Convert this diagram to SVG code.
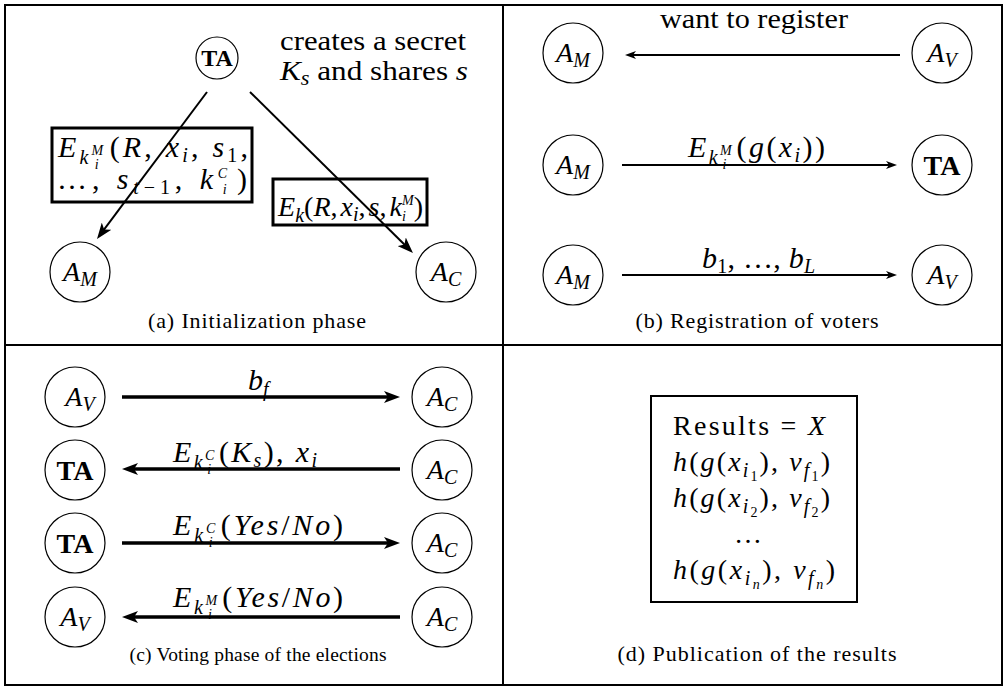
<svg xmlns="http://www.w3.org/2000/svg" width="1006" height="687" viewBox="0 0 1006 687" font-family="Liberation Serif, Times New Roman, serif">
<defs>
<style>
text { font-family: "Liberation Serif", "Times New Roman", serif; fill: #000; }
.m { font-size: 28px; }
.ml { font-size: 30px; }
.cap { font-size: 22px; }
.i { font-style: italic; }
.b { font-weight: bold; }
.s { font-size: 20px; }
.ss { font-size: 14px; }
.node { fill: #fff; stroke: #000; stroke-width: 1.2; }
.frame { fill: none; stroke: #000; stroke-width: 2; }
.box { fill: none; stroke: #000; stroke-width: 3; }
.e1 { stroke: #000; stroke-width: 2; fill: none; }
.e2 { stroke: #000; stroke-width: 3.5; fill: none; }
.e0 { stroke: #000; stroke-width: 2; fill: none; }
</style>
<marker id="ah" viewBox="0 0 16 12" refX="10" refY="6" markerWidth="16" markerHeight="12" markerUnits="userSpaceOnUse" orient="auto">
<path d="M0,0 L16,6 L0,12 L4,6 z" fill="#000"/>
</marker>
<marker id="ahs" viewBox="0 0 11 8" refX="7" refY="4" markerWidth="11" markerHeight="8" markerUnits="userSpaceOnUse" orient="auto">
<path d="M0,0 L11,4 L0,8 L3,4 z" fill="#000"/>
</marker>
</defs>

<rect x="0" y="0" width="1006" height="687" fill="#fff"/>

<!-- frame and panel dividers -->
<g id="frame">
<rect class="frame" x="5" y="5" width="997" height="680"/>
<line class="frame" x1="503" y1="5" x2="503" y2="685"/>
<line class="frame" x1="5" y1="345" x2="1002" y2="345"/>
</g>

<!-- connectors -->
<g id="connectors">
<!-- (a) initialization -->
<line class="e1" x1="207" y1="92" x2="100.6" y2="234.2" marker-end="url(#ah)"/>
<line class="e1" x1="250" y1="92" x2="408.7" y2="248.8" marker-end="url(#ah)"/>
<!-- (b) registration -->
<line class="e0" x1="900" y1="55" x2="629" y2="55" marker-end="url(#ahs)"/>
<line class="e0" x1="622" y1="165" x2="893" y2="165" marker-end="url(#ahs)"/>
<line class="e0" x1="622" y1="275" x2="893" y2="275" marker-end="url(#ahs)"/>
<!-- (c) voting -->
<line class="e2" x1="122" y1="397" x2="394" y2="397" marker-end="url(#ah)"/>
<line class="e2" x1="400" y1="469" x2="128" y2="469" marker-end="url(#ah)"/>
<line class="e2" x1="122" y1="543" x2="394" y2="543" marker-end="url(#ah)"/>
<line class="e2" x1="400" y1="617" x2="128" y2="617" marker-end="url(#ah)"/>
</g>

<!-- (a) Initialization phase -->
<g id="a-TA">
<circle class="node" cx="217" cy="58" r="21"/>
<text class="b" x="217" y="66" style="font-size:24px" text-anchor="middle">TA</text>
</g>
<g id="a-note">
<text class="m" x="280" y="50" textLength="186" lengthAdjust="spacingAndGlyphs">creates a secret</text>
<text class="m" x="280" y="80" textLength="188" lengthAdjust="spacingAndGlyphs"><tspan class="i">K</tspan><tspan class="s i" dy="5">s</tspan><tspan dy="-5"> and shares </tspan><tspan class="i">s</tspan></text>
</g>
<g id="a-msgM">
<rect class="box" x="52" y="128" width="200" height="74"/>
<text class="ml" x="58" y="157" textLength="190"><tspan class="i">E</tspan><tspan class="s i" dy="7">k</tspan><tspan class="ss i" dy="-9">M</tspan><tspan class="ss i" dx="-11.7" dy="14">i</tspan><tspan dx="7.8" dy="-12">(</tspan><tspan class="i">R</tspan>, <tspan class="i">x</tspan><tspan class="s i" dy="5">i</tspan><tspan dy="-5">, </tspan><tspan class="i">s</tspan><tspan class="s" dy="5">1</tspan><tspan dy="-5">,</tspan></text>
<text class="ml" x="57" y="189" textLength="190">…, <tspan class="i">s</tspan><tspan class="s" dy="5"><tspan class="i">t</tspan>−1</tspan><tspan dy="-5">, </tspan><tspan class="i">k</tspan><tspan class="ss i" dy="-11">C</tspan><tspan class="ss i" dx="-9.3" dy="16">i</tspan><tspan dx="5.4" dy="-5">)</tspan></text>
</g>
<g id="a-msgC">
<rect class="box" x="273" y="179" width="154" height="46"/>
<text class="m" x="278" y="216" textLength="145"><tspan class="i">E</tspan><tspan class="s i" dy="6">k</tspan><tspan dy="-6">(</tspan><tspan class="i">R</tspan>,<tspan class="i" dx="3">x</tspan><tspan class="s i" dy="5">i</tspan><tspan dy="-5">,</tspan><tspan class="i" dx="3">s</tspan>,<tspan class="i" dx="3">k</tspan><tspan class="ss i" dy="-11">M</tspan><tspan class="ss i" dx="-11.7" dy="16">i</tspan><tspan dx="7.8" dy="-5">)</tspan></text>
</g>
<g id="a-AM">
<circle class="node" cx="80" cy="272" r="30"/>
<text class="m" x="80" y="281" text-anchor="middle"><tspan class="i">A</tspan><tspan class="s i" dy="5">M</tspan></text>
</g>
<g id="a-AC">
<circle class="node" cx="446" cy="272" r="30"/>
<text class="m" x="446" y="281" text-anchor="middle"><tspan class="i">A</tspan><tspan class="s i" dy="5">C</tspan></text>
</g>
<text class="cap" x="257" y="328" text-anchor="middle" textLength="218">(a)  Initialization phase</text>

<!-- (b) Registration of voters -->
<g id="b-AM1">
<circle class="node" cx="573" cy="53" r="30"/>
<text class="m" x="573" y="62" text-anchor="middle"><tspan class="i">A</tspan><tspan class="s i" dy="5">M</tspan></text>
</g>
<g id="b-AV1">
<circle class="node" cx="942" cy="53" r="30"/>
<text class="m" x="942" y="62" text-anchor="middle"><tspan class="i">A</tspan><tspan class="s i" dy="5">V</tspan></text>
</g>
<g id="b-AM2">
<circle class="node" cx="573" cy="165" r="30"/>
<text class="m" x="573" y="174" text-anchor="middle"><tspan class="i">A</tspan><tspan class="s i" dy="5">M</tspan></text>
</g>
<g id="b-TA">
<circle class="node" cx="942" cy="165" r="30"/>
<text class="m b" x="942" y="175" text-anchor="middle">TA</text>
</g>
<g id="b-AM3">
<circle class="node" cx="573" cy="275" r="30"/>
<text class="m" x="573" y="284" text-anchor="middle"><tspan class="i">A</tspan><tspan class="s i" dy="5">M</tspan></text>
</g>
<g id="b-AV3">
<circle class="node" cx="942" cy="275" r="30"/>
<text class="m" x="942" y="284" text-anchor="middle"><tspan class="i">A</tspan><tspan class="s i" dy="5">V</tspan></text>
</g>
<g id="b-labels">
<text class="m" x="660" y="28" textLength="188" lengthAdjust="spacingAndGlyphs">want to register</text>
<text class="ml" x="688" y="157" textLength="137"><tspan class="i">E</tspan><tspan class="s i" dy="7">k</tspan><tspan class="ss i" dy="-9">M</tspan><tspan class="ss i" dx="-11.7" dy="14">i</tspan><tspan dx="7.8" dy="-12">(</tspan><tspan class="i">g</tspan>(<tspan class="i">x</tspan><tspan class="s i" dy="5">i</tspan><tspan dy="-5">))</tspan></text>
<text class="ml" x="702" y="268" textLength="113"><tspan class="i">b</tspan><tspan class="s" dy="5">1</tspan><tspan dy="-5">, …, </tspan><tspan class="i">b</tspan><tspan class="s i" dy="5">L</tspan></text>
</g>
<text class="cap" x="757" y="328" text-anchor="middle" textLength="243">(b)  Registration of voters</text>

<!-- (c) Voting phase of the elections -->
<g id="c-AV1">
<circle class="node" cx="75" cy="397" r="30"/>
<text class="m" x="80" y="406" text-anchor="middle"><tspan class="i">A</tspan><tspan class="s i" dy="5">V</tspan></text>
</g>
<g id="c-AC1">
<circle class="node" cx="442" cy="397" r="30"/>
<text class="m" x="442" y="406" text-anchor="middle"><tspan class="i">A</tspan><tspan class="s i" dy="5">C</tspan></text>
</g>
<g id="c-TA2">
<circle class="node" cx="75" cy="470" r="30"/>
<text class="m b" x="75" y="480" text-anchor="middle">TA</text>
</g>
<g id="c-AC2">
<circle class="node" cx="442" cy="470" r="30"/>
<text class="m" x="442" y="479" text-anchor="middle"><tspan class="i">A</tspan><tspan class="s i" dy="5">C</tspan></text>
</g>
<g id="c-TA3">
<circle class="node" cx="75" cy="543" r="30"/>
<text class="m b" x="75" y="553" text-anchor="middle">TA</text>
</g>
<g id="c-AC3">
<circle class="node" cx="442" cy="543" r="30"/>
<text class="m" x="442" y="552" text-anchor="middle"><tspan class="i">A</tspan><tspan class="s i" dy="5">C</tspan></text>
</g>
<g id="c-AV4">
<circle class="node" cx="75" cy="617" r="30"/>
<text class="m" x="75" y="626" text-anchor="middle"><tspan class="i">A</tspan><tspan class="s i" dy="5">V</tspan></text>
</g>
<g id="c-AC4">
<circle class="node" cx="442" cy="617" r="30"/>
<text class="m" x="442" y="626" text-anchor="middle"><tspan class="i">A</tspan><tspan class="s i" dy="5">C</tspan></text>
</g>
<g id="c-labels">
<text class="ml" x="248" y="390"><tspan class="i">b</tspan><tspan class="s i" dy="6">f</tspan></text>
<text class="ml" x="173" y="462" textLength="144"><tspan class="i">E</tspan><tspan class="s i" dy="7">k</tspan><tspan class="ss i" dy="-9">C</tspan><tspan class="ss i" dx="-9.3" dy="14">i</tspan><tspan dx="5.4" dy="-12">(</tspan><tspan class="i">K</tspan><tspan class="s i" dy="5">s</tspan><tspan dy="-5">), </tspan><tspan class="i">x</tspan><tspan class="s i" dy="5">i</tspan></text>
<text class="ml" x="173" y="535" textLength="170"><tspan class="i">E</tspan><tspan class="s i" dy="7">k</tspan><tspan class="ss i" dy="-9">C</tspan><tspan class="ss i" dx="-9.3" dy="14">i</tspan><tspan dx="5.4" dy="-12">(</tspan><tspan class="i">Yes</tspan>/<tspan class="i">No</tspan>)</text>
<text class="ml" x="173" y="607" textLength="170"><tspan class="i">E</tspan><tspan class="s i" dy="7">k</tspan><tspan class="ss i" dy="-9">M</tspan><tspan class="ss i" dx="-11.7" dy="14">i</tspan><tspan dx="7.8" dy="-12">(</tspan><tspan class="i">Yes</tspan>/<tspan class="i">No</tspan>)</text>
</g>
<text x="258" y="661" font-size="19.5" text-anchor="middle" textLength="257">(c)  Voting phase of the elections</text>

<!-- (d) Publication of the results -->
<g id="d-results">
<rect class="frame" x="651" y="396" width="206" height="206"/>
<text class="m" x="673" y="435" textLength="152">Results = <tspan class="i">X</tspan></text>
<text class="m" x="673" y="471" textLength="157"><tspan class="i">h</tspan>(<tspan class="i">g</tspan>(<tspan class="i">x</tspan><tspan class="s i" dy="6">i</tspan><tspan class="ss" dy="4">1</tspan><tspan dy="-10">), </tspan><tspan class="i">v</tspan><tspan class="s i" dy="6">f</tspan><tspan class="ss" dy="4">1</tspan><tspan dy="-10">)</tspan></text>
<text class="m" x="673" y="507" textLength="157"><tspan class="i">h</tspan>(<tspan class="i">g</tspan>(<tspan class="i">x</tspan><tspan class="s i" dy="6">i</tspan><tspan class="ss" dy="4">2</tspan><tspan dy="-10">), </tspan><tspan class="i">v</tspan><tspan class="s i" dy="6">f</tspan><tspan class="ss" dy="4">2</tspan><tspan dy="-10">)</tspan></text>
<text class="m" x="748" y="543" text-anchor="middle">…</text>
<text class="m" x="673" y="579" textLength="162"><tspan class="i">h</tspan>(<tspan class="i">g</tspan>(<tspan class="i">x</tspan><tspan class="s i" dy="6">i</tspan><tspan class="ss i" dy="4">n</tspan><tspan dy="-10">), </tspan><tspan class="i">v</tspan><tspan class="s i" dy="6">f</tspan><tspan class="ss i" dy="4">n</tspan><tspan dy="-10">)</tspan></text>
</g>
<text class="cap" x="757" y="661" text-anchor="middle" textLength="279">(d)  Publication of the results</text>
</svg>
